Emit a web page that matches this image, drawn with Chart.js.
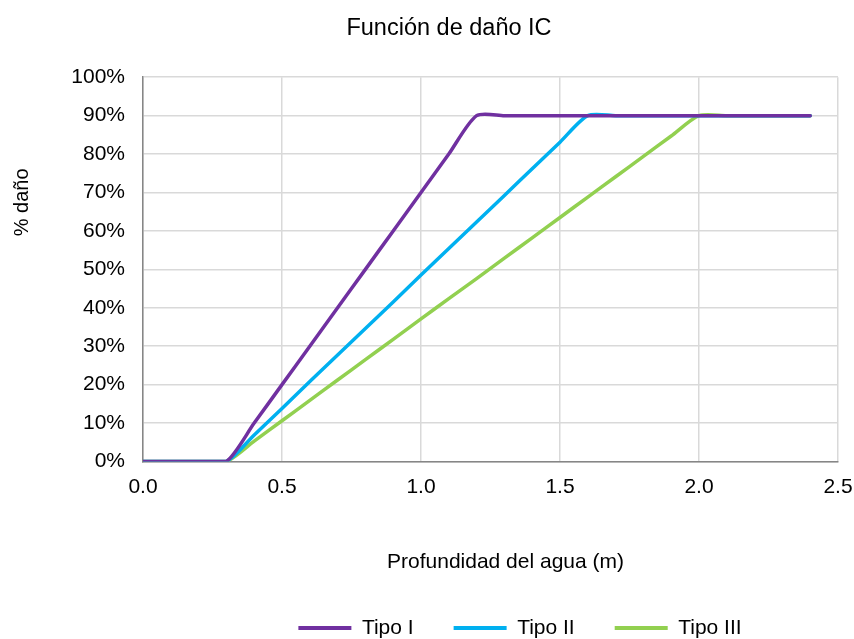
<!DOCTYPE html>
<html>
<head>
<meta charset="utf-8">
<script src="https://cdn.jsdelivr.net/npm/chart.js@4/dist/chart.umd.min.js"></script>
<style>
html,body{margin:0;padding:0;background:#fff;}
#wrap{width:854px;height:639px;}
</style>
</head>
<body>
<div id="wrap"><canvas id="c" width="854" height="639"></canvas></div>
<script>
const depths = [0.0,0.1,0.2,0.3,0.4,0.5,0.6,0.7,0.8,0.9,1.0,1.1,1.2,1.3,1.4,1.5,1.6,1.7,1.8,1.9,2.0,2.1,2.2,2.3,2.4];
const tipoI   = [0,0,0,0,0.10,0.20,0.30,0.40,0.50,0.60,0.70,0.80,0.90,0.90,0.90,0.90,0.90,0.90,0.90,0.90,0.90,0.90,0.90,0.90,0.90];
const tipoII  = [0,0,0,0,0.069,0.138,0.208,0.277,0.346,0.415,0.485,0.554,0.623,0.692,0.762,0.831,0.90,0.90,0.90,0.90,0.90,0.90,0.90,0.90,0.90];
const tipoIII = [0,0,0,0,0.053,0.106,0.159,0.212,0.265,0.318,0.371,0.424,0.476,0.529,0.582,0.635,0.688,0.741,0.794,0.847,0.90,0.90,0.90,0.90,0.90];
const seriesNames = ['Tipo I','Tipo II','Tipo III'];
const xTicks = [0.0,0.5,1.0,1.5,2.0,2.5];

const mk = (arr) => depths.map((d,i)=>({x:d,y:arr[i]}));
const font = "'Liberation Sans', Arial, sans-serif";

// shifts text blocks to match the reference placement
const shiftPlugin = {
  id: 'shiftBlocks',
  afterLayout(chart) {
    const t = chart.titleBlock; if (t) { t.left += 22; t.right += 22; }
    const l = chart.legend; if (l) { l.left += 93; l.right += 93; }
    const sx = chart.scales.x, sy = chart.scales.y;
    if (!sx._patched) {
      const o = sx.drawTitle.bind(sx);
      sx.drawTitle = function(){ this.left += 15; this.right += 15; o(); this.left -= 15; this.right -= 15; };
      sx._patched = true;
    }
    if (!sy._patched) {
      const o = sy.drawTitle.bind(sy);
      sy.drawTitle = function(){ this.top -= 67; this.bottom -= 67; o(); this.top += 67; this.bottom += 67; };
      sy._patched = true;
    }
  }
};

new Chart(document.getElementById('c'), {
  type: 'line',
  data: {
    datasets: [
      {label: seriesNames[0], data: mk(tipoI), borderColor:'#7030A0', backgroundColor:'#7030A0'},
      {label: seriesNames[1], data: mk(tipoII), borderColor:'#00B0F0', backgroundColor:'#00B0F0'},
      {label: seriesNames[2], data: mk(tipoIII), borderColor:'#92D050', backgroundColor:'#92D050'}
    ]
  },
  plugins: [shiftPlugin],
  options: {
    responsive: false,
    animation: false,
    devicePixelRatio: 1,
    layout: {padding: {left: 0, right: 0, top: 0, bottom: -9.5}},
    elements: {
      line: {borderWidth: 3.5, tension: 0.25, cubicInterpolationMode: 'default', borderCapStyle: 'round', borderJoinStyle: 'round'},
      point: {radius: 0}
    },
    plugins: {
      title: {
        display: true, text: 'Función de daño IC', color: '#000',
        font: {family: font, size: 23.5, weight: 'normal'},
        padding: {top: 14, bottom: 35}
      },
      legend: {
        position: 'bottom',
        labels: {
          color: '#000', font: {family: font, size: 21},
          boxWidth: 53, boxHeight: 4, padding: 40,
          generateLabels: (chart) => chart.data.datasets.map((ds,i)=>({
            text: ds.label, fillStyle: ds.borderColor, strokeStyle: ds.borderColor,
            lineWidth: 0, datasetIndex: i, hidden: false
          }))
        }
      },
      tooltip: {enabled: false}
    },
    scales: {
      x: {
        type: 'linear', min: 0, max: 2.5,
        afterBuildTicks: (s) => { s.ticks = xTicks.map(v=>({value:v})); },
        ticks: {color:'#000', font:{family:font,size:21}, padding: 13,
          callback: (v) => Number(v).toFixed(1)},
        grid: {color:'#d9d9d9', lineWidth: 1.5, drawTicks: false},
        border: {color:'#868686', width: 1.5},
        title: {display: true, text: 'Profundidad del agua (m)', color:'#000',
          font:{family:font,size:21}, padding:{top: 0, bottom: 3}},
        afterFit: (s) => { s.height = 116; s.paddingRight = 16; s.paddingLeft = 0; }
      },
      y: {
        min: 0, max: 1,
        ticks: {stepSize: 0.1, color:'#000', font:{family:font,size:21}, padding: 18,
          callback: (v) => Math.round(v*100) + '%'},
        grid: {color:'#d9d9d9', lineWidth: 1.5, drawTicks: false},
        border: {color:'#868686', width: 1.5},
        title: {display: true, text: '% daño', color:'#000',
          font:{family:font,size:20}, padding:{top: 10, bottom: 0}},
        afterFit: (s) => { s.width = 143; }
      }
    }
  }
});
</script>
</body>
</html>
